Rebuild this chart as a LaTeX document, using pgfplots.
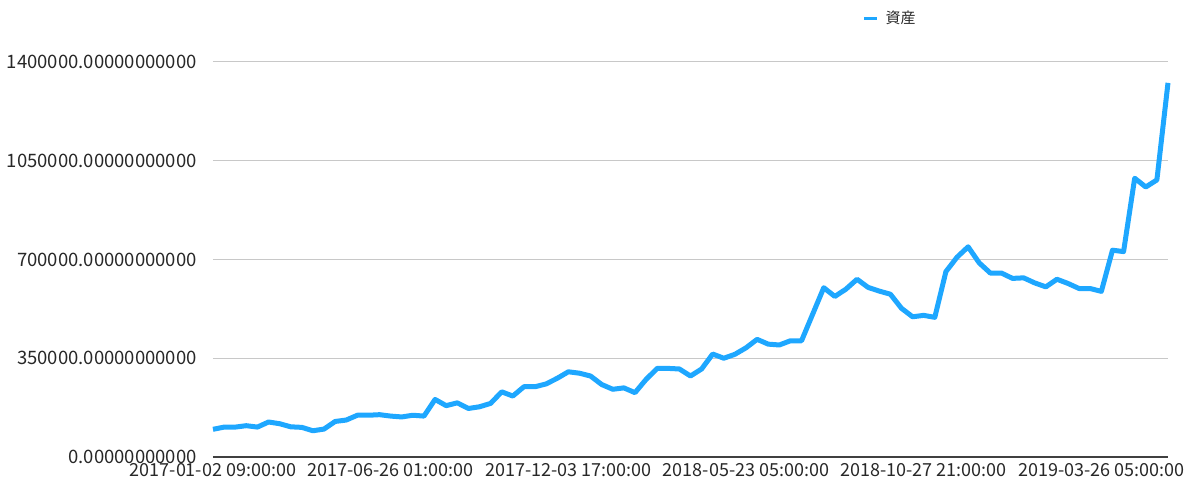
\documentclass[border=0pt]{standalone}
\usepackage{pgfplots}
\pgfplotsset{compat=1.18}
\usepackage{fontspec}
\newfontfamily\cjk{Noto Sans CJK JP}
\definecolor{linec}{RGB}{30,167,255}
\definecolor{gridc}{RGB}{200,200,200}
\definecolor{textc}{RGB}{40,40,40}
\begin{document}
\begin{tikzpicture}
\path[use as bounding box] (-213pt,-36pt) rectangle (987pt,457pt);
\begin{axis}[
  at={(0pt,0pt)}, anchor=south west,
  scale only axis, width=955pt, height=395pt,
  xmin=0, xmax=86, ymin=0, ymax=1400000,
  enlarge x limits=false, enlarge y limits=false,
  clip=false,
  scaled y ticks=false, scaled x ticks=false,
  ytick={0,350000,700000,1050000,1400000},
  yticklabels={0.00000000000,350000.00000000000,700000.00000000000,1050000.00000000000,1400000.00000000000},
  xtick={0,16,32,48,64,80},
  xticklabels={2017-01-02 09:00:00,2017-06-26 01:00:00,2017-12-03 17:00:00,2018-05-23 05:00:00,2018-10-27 21:00:00,2019-03-26 05:00:00},
  ymajorgrids, grid style={gridc, line width=1pt},
  major tick length=0pt,
  axis x line*=bottom, axis y line*=left,
  y axis line style={draw=none},
  x axis line style={draw=black!75, line width=1.5pt, -},
  /pgf/number format/assume math mode=true,
  tick label style={text=textc},
  yticklabel style={font=\cjk\fontsize{18.5}{20}\selectfont, anchor=east, inner sep=0pt, xshift=-16pt},
  xticklabel style={font=\cjk\fontsize{18}{20}\selectfont, anchor=base, inner sep=0pt, yshift=-19pt},
  legend style={at={(0.680,1.111)}, anchor=west, draw=none, fill=none,
    font=\cjk\fontsize{15}{17}\selectfont, text=textc, inner sep=0pt},
  legend image code/.code={\draw[linec, line width=3pt] (0pt,0pt) -- (13pt,0pt);},
]
\addplot[linec, line width=5pt, line join=round, mark=none] table {
x y
0 98000
1 106000
2 106000
3 111000
4 106000
5 124000
6 118000
7 107000
8 105000
9 93000
10 99000
11 126000
12 131000
13 148000
14 148000
15 150000
16 145000
17 142000
18 148000
19 145000
20 204000
21 182000
22 192000
23 172000
24 178000
25 190000
26 231000
27 216000
28 249000
29 249000
30 259000
31 279000
32 302000
33 297000
34 287000
35 257000
36 240000
37 245000
38 228000
39 275000
40 314000
41 314000
42 312000
43 287000
44 312000
45 365000
46 350000
47 364000
48 387000
49 417000
50 400000
51 397000
52 412000
53 412000
54 506000
55 600000
56 569000
57 595000
58 630000
59 601000
60 588000
61 577000
62 527000
63 497000
64 502000
65 495000
66 657000
67 708000
68 745000
69 688000
70 652000
71 652000
72 633000
73 635000
74 617000
75 603000
76 630000
77 615000
78 597000
79 597000
80 587000
81 733000
82 728000
83 988000
84 957000
85 982000
86 1326000
};
\addlegendentry{\hspace{5pt}資産}
\end{axis}
\end{tikzpicture}
\end{document}
